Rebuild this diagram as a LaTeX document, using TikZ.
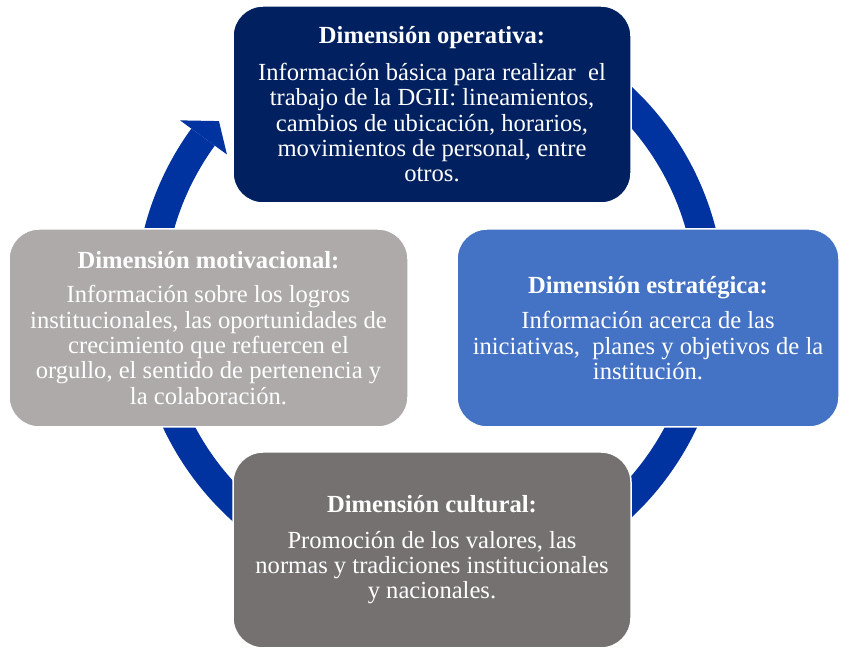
\documentclass[tikz,border=0pt]{standalone}
\usepackage{fontspec}
\setmainfont{Liberation Serif}
\definecolor{ringblue}{HTML}{0033A0}
\definecolor{navy}{HTML}{002060}
\definecolor{midblue}{HTML}{4472C4}
\definecolor{darkgray}{HTML}{767171}
\definecolor{lightgray}{HTML}{AEAAAA}
\begin{document}
\begin{tikzpicture}[x=1pt,y=1pt,
  box/.style={draw=white,line width=1.5pt,rounded corners=30pt,text=white,
    align=center,font=\fontsize{24.6}{25.4}\selectfont,inner sep=0pt},
  ringfill/.style={fill=ringblue}]
\useasboundingbox (0,0) rectangle (841,650);
\coordinate (c) at (430,348);
% ring
\fill[ringfill,shift={(c)}] (100:295) arc[start angle=100,end angle=-216,radius=295]
  -- (-216:266) arc[start angle=-216,end angle=100,radius=266] -- cycle;
\fill[ringfill,shift={(c)}] (144:309) -- (139.4:278) -- (144:251) -- cycle;
% boxes
\node[box,fill=navy,minimum width=398pt,minimum height=197pt] (top) at (432,545.5)
 {\textbf{Dimensión operativa:}\\[11pt]
  Información básica para realizar\ \ el\\
  trabajo de la DGII: lineamientos,\\
  cambios de ubicación, horarios,\\
  movimientos de personal, entre\\
  otros.};
\node[box,fill=midblue,minimum width=382pt,minimum height=198pt] (right) at (648,322)
 {\textbf{Dimensión estratégica:}\\[10pt]
  Información acerca de las\\
  iniciativas,\ \ planes y objetivos de la\\
  institución.};
\node[box,fill=darkgray,minimum width=398pt,minimum height=196pt] (bottom) at (432,100)
 {\textbf{Dimensión cultural:}\\[10pt]
  Promoción de los valores, las\\
  normas y tradiciones institucionales\\
  y nacionales.};
\node[box,fill=lightgray,minimum width=399pt,minimum height=198pt] (left) at (208.5,322)
 {\textbf{Dimensión motivacional:}\\[9pt]
  Información sobre los logros\\
  institucionales, las oportunidades de\\
  crecimiento que refuercen el\\
  orgullo, el sentido de pertenencia y\\
  la colaboración.};
\end{tikzpicture}
\end{document}
